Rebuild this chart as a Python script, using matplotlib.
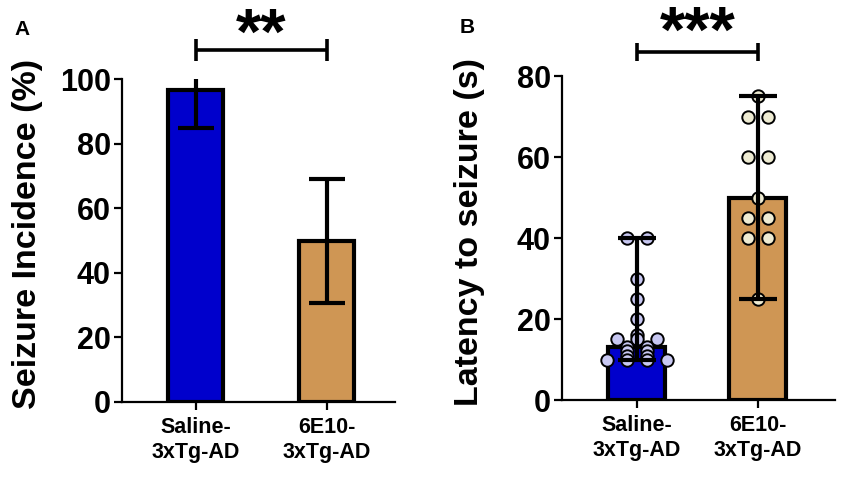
import numpy as np
import matplotlib
matplotlib.use("Agg")
import matplotlib.pyplot as plt

# Data
groups = ["Saline-\n3xTg-AD", "6E10-\n3xTg-AD"]
bar_colors = ["#0000cc", "#cf9654"]
point_colors = ["#c8c8f2", "#eeebd2"]

# Panel A: seizure incidence (mean +/- error)
incidence = [96.6, 50.0]
incidence_err = [11.8, 19.2]

# Panel B: latency to seizure, individual animals (bar = median, whiskers = range)
latency_saline = [40, 40, 30, 25, 20, 16, 15, 15, 15, 13, 13, 12, 12, 11, 11, 10, 10, 10, 10]
latency_6e10 = [75, 70, 70, 60, 60, 50, 45, 45, 40, 40, 25]

plt.rcParams['font.family'] = ['Liberation Sans', 'DejaVu Sans']
plt.rcParams['font.weight'] = 'bold'


def style_axes(ax):
    for side in ["top", "right"]:
        ax.spines[side].set_visible(False)
    for side in ["left", "bottom"]:
        ax.spines[side].set_linewidth(1.6)
    ax.tick_params(axis='y', length=6, width=1.6, labelsize=22, pad=2)
    ax.tick_params(axis='x', length=6, width=1.6, labelsize=15.5, pad=5)
    for lab in ax.get_yticklabels() + ax.get_xticklabels():
        lab.set_fontweight('bold')


def swarm_offsets(values, step):
    # spread equal values side by side, symmetric around the centre
    values = np.asarray(values)
    offsets = np.zeros(len(values))
    for v in np.unique(values):
        idx = np.where(values == v)[0]
        n = len(idx)
        offsets[idx] = (np.arange(n) - (n - 1) / 2) * step
    return offsets


def bracket(ax, x0, x1, y, h, stars, star_y):
    ax.plot([x0, x1], [y, y], color='black', lw=2.6, clip_on=False, solid_capstyle='butt')
    for xx in (x0, x1):
        ax.plot([xx, xx], [y - h, y + h], color='black', lw=2.6, clip_on=False, solid_capstyle='butt')
    ax.text((x0 + x1) / 2, star_y, stars, ha='center', va='baseline', fontsize=47,
            fontweight='bold', clip_on=False)


fig = plt.figure(figsize=(8.5, 4.82), dpi=100)

# ---------------- Panel A ----------------
axA = fig.add_axes([0.1435, 0.166, 0.321, 0.670])
xA = np.arange(len(groups))
axA.bar(xA, incidence, width=0.42, color=bar_colors, edgecolor='black', linewidth=3, zorder=2)
axA.errorbar(xA, incidence, yerr=incidence_err, fmt='none', ecolor='black', elinewidth=3,
             capsize=13, capthick=3, zorder=3)
axA.set_xlim(-0.565, 1.52)
axA.set_ylim(0, 100)
axA.set_yticks(np.arange(0, 101, 20))
axA.set_xticks(xA)
axA.set_xticklabels(groups, linespacing=1.25)
axA.set_ylabel("Seizure Incidence (%)", fontsize=24.5, fontweight='bold')
axA.yaxis.set_label_coords(-0.29, 0.52)
style_axes(axA)
bracket(axA, xA[0], xA[1], 109, 3.4, "**", 107.7)

# ---------------- Panel B ----------------
axB = fig.add_axes([0.661, 0.170, 0.321, 0.672])
xB = np.arange(len(groups))
samples = [latency_saline, latency_6e10]
medians = [np.median(s) for s in samples]
lows = [np.median(s) - np.min(s) for s in samples]
highs = [np.max(s) - np.median(s) for s in samples]
axB.bar(xB, medians, width=0.47, color=bar_colors, edgecolor='black', linewidth=3, zorder=2)
for i, s in enumerate(samples):
    offs = swarm_offsets(s, 0.165)
    axB.scatter(xB[i] + offs, s, s=80, color=point_colors[i], edgecolor='black',
                linewidth=1.4, zorder=3, clip_on=False)
axB.errorbar(xB, medians, yerr=[lows, highs], fmt='none', ecolor='black', elinewidth=3,
             capsize=14, capthick=3, zorder=4)
axB.set_xlim(-0.62, 1.636)
axB.set_ylim(0, 80)
axB.set_yticks(np.arange(0, 81, 20))
axB.set_xticks(xB)
axB.set_xticklabels(groups, linespacing=1.25)
axB.set_ylabel("Latency to seizure (s)", fontsize=24.5, fontweight='bold')
axB.yaxis.set_label_coords(-0.28, 0.52)
style_axes(axB)
bracket(axB, xB[0], xB[1], 86, 2.2, "***", 86.0)

fig.text(0.017, 0.958, "A", fontsize=15, fontweight='bold', va='top', ha='left')
fig.text(0.541, 0.962, "B", fontsize=15, fontweight='bold', va='top', ha='left')

fig.savefig("out.png", dpi=100)
plt.close(fig)
